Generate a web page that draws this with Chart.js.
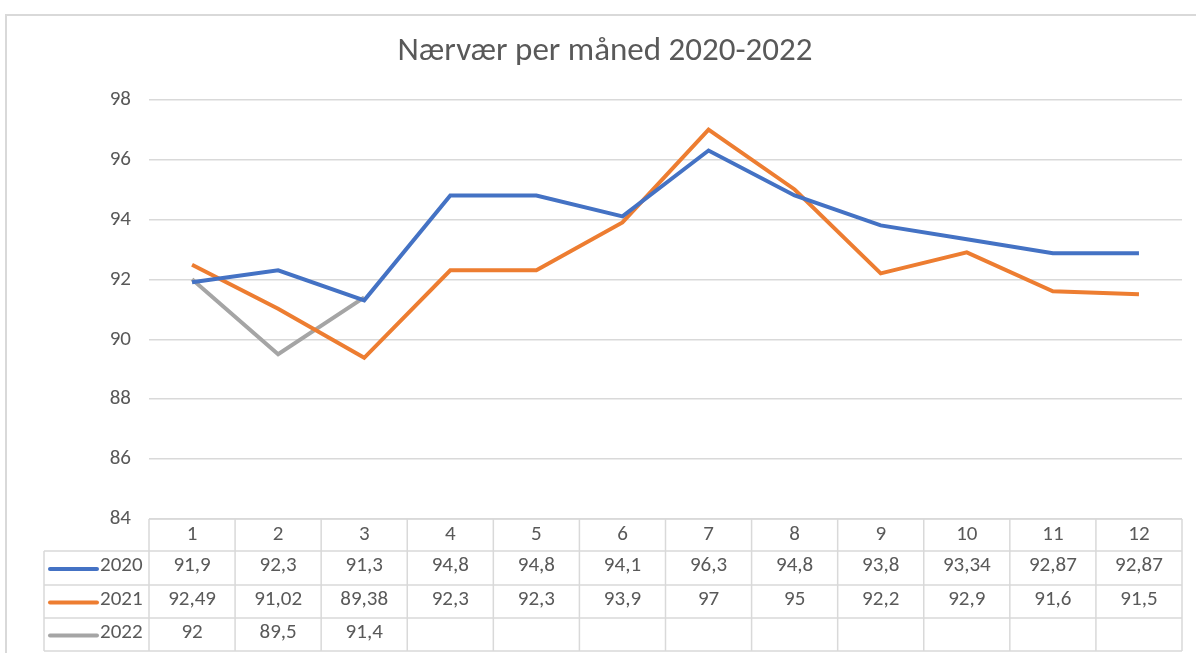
<!DOCTYPE html>
<html>
<head>
<meta charset="utf-8">
<script src="https://cdn.jsdelivr.net/npm/chart.js@4"></script>
<style>
  html, body { margin: 0; padding: 0; background: #fff; }
  #wrap { width: 1196px; height: 653px; }
</style>
</head>
<body>
<div id="wrap"><canvas id="chart1"></canvas></div>
<script>
// data
var months = ['1', '2', '3', '4', '5', '6', '7', '8', '9', '10', '11', '12'];
var years = ['2020', '2021', '2022'];
var v2020 = [91.9, 92.3, 91.3, 94.8, 94.8, 94.1, 96.3, 94.8, 93.8, 93.34, 92.87, 92.87];
var v2021 = [92.49, 91.02, 89.38, 92.3, 92.3, 93.9, 97, 95, 92.2, 92.9, 91.6, 91.5];
var v2022 = [92, 89.5, 91.4, null, null, null, null, null, null, null, null, null];
var colors = ['#4472c4', '#ed7d31', '#a5a5a5'];

var txtColor = '#595959';
var gridColor = '#d9d9d9';
var fontFam = "Carlito, Calibri, 'Open Sans', sans-serif";

function fmt(v) {
  if (v === null) return '';
  return String(v).replace('.', ',');
}

// draws the outer border and the data table under the plot
const tablePlugin = {
  id: 'datatable',
  afterDraw(chart) {
    var ctx = chart.ctx;
    var area = chart.chartArea;
    var xs = chart.scales.x;
    var step = xs.getPixelForValue(1) - xs.getPixelForValue(0);
    var left = area.left, right = area.right;
    var rows = [area.bottom, area.bottom + 32, area.bottom + 66, area.bottom + 99, area.bottom + 132];
    var legLeft = 44;

    ctx.save();
    // chart border
    ctx.strokeStyle = gridColor;
    ctx.lineWidth = 2;
    ctx.beginPath();
    ctx.moveTo(6, 653);
    ctx.lineTo(6, 15);
    ctx.lineTo(1196, 15);
    ctx.stroke();

    // table lines
    ctx.lineWidth = 1.5;
    ctx.beginPath();
    ctx.moveTo(left, rows[0]); ctx.lineTo(right, rows[0]);
    for (var r = 1; r < rows.length; r++) {
      ctx.moveTo(legLeft, rows[r]); ctx.lineTo(right, rows[r]);
    }
    ctx.moveTo(legLeft, rows[1]); ctx.lineTo(legLeft, rows[4]);
    for (var c = 0; c <= months.length; c++) {
      var x = left + c * step;
      ctx.moveTo(x, rows[0]); ctx.lineTo(x, rows[4]);
    }
    ctx.stroke();

    ctx.fillStyle = txtColor;
    ctx.font = '21px ' + fontFam;
    ctx.textAlign = 'center';
    ctx.textBaseline = 'middle';
    months.forEach(function(m, i) {
      ctx.fillText(m, xs.getPixelForValue(i), (rows[0] + rows[1]) / 2);
    });
    chart.data.datasets.forEach(function(ds, k) {
      var cy = (rows[k + 1] + rows[k + 2]) / 2 - 2;
      ds.data.forEach(function(v, i) {
        ctx.fillText(fmt(v), xs.getPixelForValue(i), cy);
      });
      // legend key
      ctx.strokeStyle = ds.borderColor;
      ctx.lineWidth = 4;
      ctx.lineCap = 'round';
      ctx.beginPath();
      ctx.moveTo(50, cy + 3);
      ctx.lineTo(97, cy + 3);
      ctx.stroke();
      ctx.textAlign = 'left';
      ctx.fillText(ds.label, 100, cy);
      ctx.textAlign = 'center';
    });
    ctx.restore();
  }
};

const data = {
  labels: months,
  datasets: [{
    label: years[0],
    data: v2020,
    borderColor: colors[0],
    backgroundColor: colors[0],
    borderWidth: 4,
    pointRadius: 0,
    tension: 0
  },
  {
    label: years[1],
    data: v2021,
    borderColor: colors[1],
    backgroundColor: colors[1],
    borderWidth: 4,
    pointRadius: 0,
    tension: 0
  },
  {
    label: years[2],
    data: v2022,
    borderColor: colors[2],
    backgroundColor: colors[2],
    borderWidth: 4,
    pointRadius: 0,
    tension: 0
  }]
};

const config = {
  type: 'line',
  data: data,
  options: {
    responsive: true,
    maintainAspectRatio: false,
    animation: false,
    layout: {
      padding: { left: 28, right: 14, top: 0, bottom: 134 }
    },
    scales: {
      x: {
        display: false,
        offset: true
      },
      y: {
        min: 84,
        max: 98,
        ticks: {
          stepSize: 2,
          color: txtColor,
          padding: 18,
          font: { size: 21, family: fontFam }
        },
        grid: {
          color: gridColor,
          lineWidth: 1.5,
          drawTicks: false
        },
        border: { display: false },
        afterFit: function(scale) { scale.width = 121; }
      }
    },
    plugins: {
      legend: { display: false },
      tooltip: { enabled: false },
      title: {
        display: true,
        text: 'Nærvær per måned 2020-2022',
        color: txtColor,
        font: { size: 33, weight: 'normal', family: fontFam, lineHeight: 1.2 },
        padding: { top: 32, bottom: 28 }
      }
    }
  },
  plugins: [tablePlugin]
};

var ctx = document.getElementById('chart1');
var chart = new Chart(ctx, config);
</script>
</body>
</html>
